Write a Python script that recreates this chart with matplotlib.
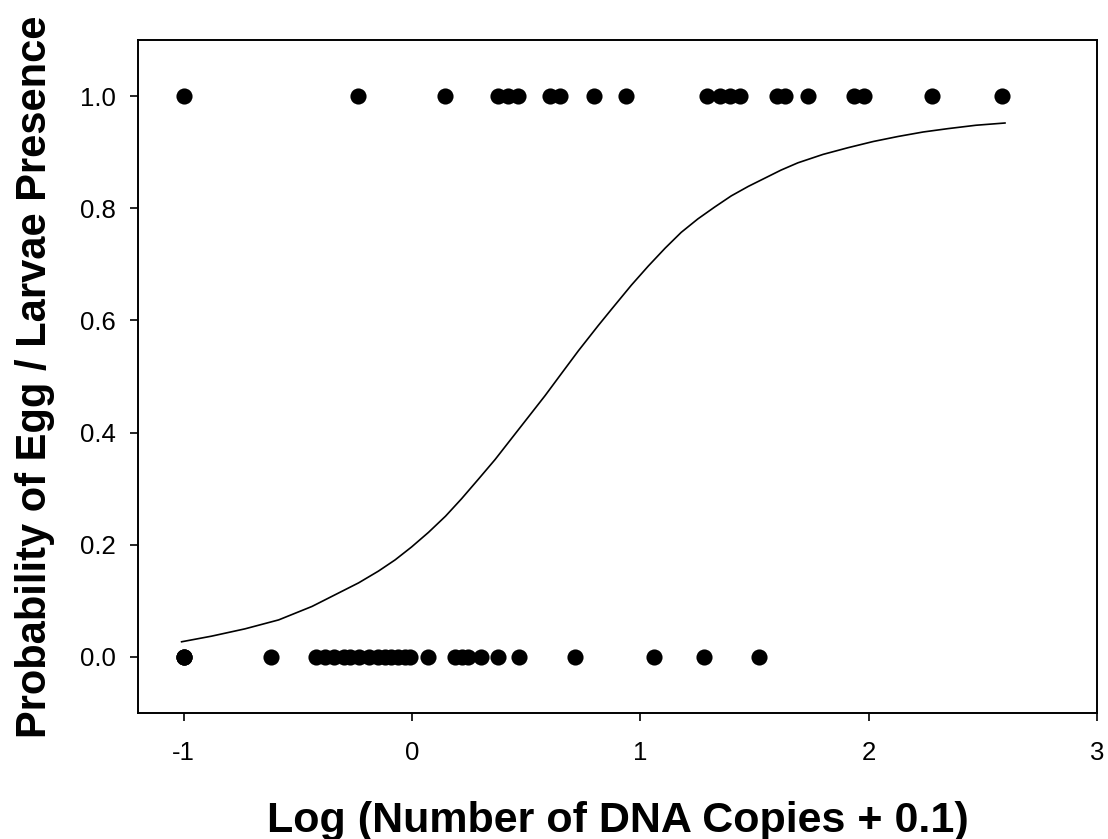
import matplotlib
matplotlib.use("Agg")
import matplotlib.pyplot as plt

plt.rcParams['font.family'] = ['Liberation Sans', 'DejaVu Sans']

# Observed presence (y=1)
present_x = [-1.0, -0.236, 0.144, 0.376, 0.419, 0.463, 0.603, 0.646, 0.799, 0.939,
             1.293, 1.349, 1.393, 1.437, 1.598, 1.633, 1.734, 1.934, 1.978, 2.279, 2.585]
# Observed absence (y=0)
absent_x = [-1.0, -1.0, -1.0, -0.616,
            -0.42, -0.38, -0.34, -0.30, -0.27, -0.23, -0.19, -0.15, -0.12, -0.09,
            -0.06, -0.03, -0.01, 0.07,
            0.19, 0.22, 0.245, 0.30, 0.376, 0.468, 0.712, 1.061, 1.279, 1.520]

# Fitted logistic curve
curve_x = [-1.009, -0.878, -0.732, -0.584, -0.438, -0.234, -0.147, -0.074, -0.002,
           0.072, 0.147, 0.217, 0.291, 0.364, 0.435, 0.510, 0.583, 0.654, 0.729,
           0.816, 0.874, 0.961, 1.035, 1.109, 1.179, 1.252, 1.325, 1.398, 1.473,
           1.547, 1.616, 1.690, 1.800, 1.910, 2.020, 2.129, 2.239, 2.348, 2.470, 2.597]
curve_y = [0.027, 0.037, 0.050, 0.066, 0.090, 0.132, 0.153, 0.173, 0.196,
           0.222, 0.251, 0.282, 0.317, 0.352, 0.389, 0.428, 0.466, 0.505, 0.546,
           0.591, 0.620, 0.663, 0.697, 0.729, 0.757, 0.781, 0.802, 0.822, 0.839,
           0.854, 0.868, 0.881, 0.896, 0.908, 0.919, 0.928, 0.936, 0.942, 0.948, 0.952]

x_ticks = [-1, 0, 1, 2, 3]
y_ticks = [0.0, 0.2, 0.4, 0.6, 0.8, 1.0]

fig = plt.figure(figsize=(11.08, 8.39), dpi=100)
ax = fig.add_axes([138/1108, 1 - 713/839, (1097-138)/1108, (713-40)/839])

ax.plot(curve_x, curve_y, color='black', lw=1.2, solid_joinstyle='round')
ax.scatter(present_x, [1.0]*len(present_x), s=135, color='black', zorder=3, linewidths=0)
ax.scatter(absent_x, [0.0]*len(absent_x), s=135, color='black', zorder=3, linewidths=0)

ax.set_xlim(-1.2, 3.0)
ax.set_ylim(-0.1, 1.1)
ax.set_xticks(x_ticks)
ax.set_xticklabels([str(t) for t in x_ticks])
ax.set_yticks(y_ticks)
ax.set_yticklabels([f"{t:.1f}" for t in y_ticks])

for s in ax.spines.values():
    s.set_linewidth(1.4)
ax.tick_params(direction='out', length=6, width=1.2, labelsize=18.5, pad=10,
               top=False, right=False)
ax.tick_params(axis='x', pad=14)

ax.set_xlabel('Log (Number of DNA Copies + 0.1)', fontsize=31, fontweight='bold', labelpad=26)
ax.set_ylabel('Probability of Egg / Larvae Presence', fontsize=30, fontweight='bold', labelpad=18)

fig.savefig('out.png', dpi=100)
